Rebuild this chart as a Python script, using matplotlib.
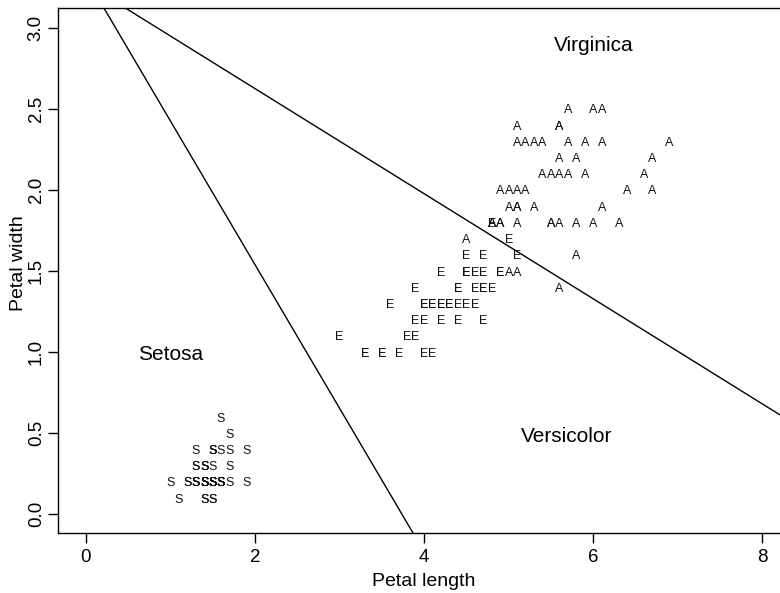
import matplotlib
matplotlib.use("Agg")
import matplotlib.pyplot as plt
import numpy as np

plt.rcParams['font.family'] = ['Liberation Sans', 'DejaVu Sans']

setosa_len = [1.4,1.4,1.3,1.5,1.4,1.7,1.4,1.5,1.4,1.5,1.5,1.6,1.4,1.1,1.2,1.5,1.3,1.4,1.7,1.5,
              1.7,1.5,1.0,1.7,1.9,1.6,1.6,1.5,1.4,1.6,1.6,1.5,1.5,1.4,1.5,1.2,1.3,1.4,1.3,1.5,
              1.3,1.3,1.3,1.6,1.9,1.4,1.6,1.4,1.5,1.4]
setosa_wid = [0.2,0.2,0.2,0.2,0.2,0.4,0.3,0.2,0.2,0.1,0.2,0.2,0.1,0.1,0.2,0.4,0.4,0.3,0.3,0.3,
              0.2,0.4,0.2,0.5,0.2,0.2,0.4,0.2,0.2,0.2,0.2,0.4,0.1,0.2,0.2,0.2,0.2,0.1,0.2,0.2,
              0.3,0.3,0.2,0.6,0.4,0.3,0.2,0.2,0.2,0.2]
versi_len = [4.7,4.5,4.9,4.0,4.6,4.5,4.7,3.3,4.6,3.9,3.5,4.2,4.0,4.7,3.6,4.4,4.5,4.1,4.5,3.9,
             4.8,4.0,4.9,4.7,4.3,4.4,4.8,5.0,4.5,3.5,3.8,3.7,3.9,5.1,4.5,4.5,4.7,4.4,4.1,4.0,
             4.4,4.6,4.0,3.3,4.2,4.2,4.2,4.3,3.0,4.1]
versi_wid = [1.4,1.5,1.5,1.3,1.5,1.3,1.6,1.0,1.3,1.4,1.0,1.5,1.0,1.4,1.3,1.4,1.5,1.0,1.5,1.1,
             1.8,1.3,1.5,1.2,1.3,1.4,1.4,1.7,1.5,1.0,1.1,1.0,1.2,1.6,1.5,1.6,1.5,1.3,1.3,1.3,
             1.2,1.4,1.2,1.0,1.3,1.2,1.3,1.3,1.1,1.3]
virg_len = [6.0,5.1,5.9,5.6,5.8,6.6,4.5,6.3,5.8,6.1,5.1,5.3,5.5,5.0,5.1,5.3,5.5,6.7,6.9,5.0,
            5.7,4.9,6.7,4.9,5.7,6.0,4.8,4.9,5.6,5.8,6.1,6.4,5.6,5.1,5.6,6.1,5.6,5.5,4.8,5.4,
            5.6,5.1,5.1,5.9,5.7,5.2,5.0,5.2,5.4,5.1]
virg_wid = [2.5,1.9,2.1,1.8,2.2,2.1,1.7,1.8,1.8,2.5,2.0,1.9,2.1,2.0,2.4,2.3,1.8,2.2,2.3,1.5,
            2.3,2.0,2.0,1.8,2.1,1.8,1.8,1.8,2.1,1.6,1.9,2.0,2.2,1.5,1.4,2.3,2.4,1.8,1.8,2.1,
            2.4,2.3,1.9,2.3,2.5,2.3,1.9,2.0,2.3,1.8]

species_letters = ['S', 'E', 'A']
region_names = ['Setosa', 'Versicolor', 'Virginica']
region_label_x = [1.0, 5.69, 6.0]
region_label_y = [1.0, 0.49, 2.90]

# decision boundaries: y = intercept + slope * x
boundary_intercepts = [3.313, 3.274]
boundary_slopes = [-0.886, -0.3242]

x_ticks = [0, 2, 4, 6, 8]
y_ticks = [0.0, 0.5, 1.0, 1.5, 2.0, 2.5, 3.0]

CAP = 0.716  # cap height / em for Liberation Sans
LETTER_SIZE = 9
REGION_SIZE = 15

fig = plt.figure(figsize=(7.8, 5.93), dpi=100)
ax = fig.add_axes([58/780, 60/593, 722/780, 525/593])
ax.set_xlim(-0.327, 8.207)
ax.set_ylim(-0.115, 3.122)

groups = [(setosa_len, setosa_wid), (versi_len, versi_wid), (virg_len, virg_wid)]
for (xs, ys), letter in zip(groups, species_letters):
    for x, y in zip(xs, ys):
        ax.annotate(letter, (x, y), xytext=(0, -LETTER_SIZE * CAP / 2),
                    textcoords='offset points', ha='center', va='baseline',
                    fontsize=LETTER_SIZE, color='#111111')

xx = np.array([-1.0, 10.0])
for b, m in zip(boundary_intercepts, boundary_slopes):
    ax.plot(xx, b + m * xx, color='black', lw=1.0)

for name, lx, ly in zip(region_names, region_label_x, region_label_y):
    ax.annotate(name, (lx, ly), xytext=(0, -REGION_SIZE * CAP / 2),
                textcoords='offset points', ha='center', va='baseline',
                fontsize=REGION_SIZE, color='black')

ax.set_xticks(x_ticks)
ax.set_xticklabels([str(t) for t in x_ticks])
ax.set_yticks(y_ticks)
ax.set_yticklabels([f"{t:.1f}" for t in y_ticks], rotation=90, va='center')
ax.tick_params(axis='both', length=7.5, width=1, labelsize=13.5, direction='out')
ax.tick_params(axis='x', pad=4)
ax.tick_params(axis='y', pad=2)
ax.spines['right'].set_visible(False)
for s in ['left', 'bottom', 'top']:
    ax.spines[s].set_linewidth(1.0)

ax.set_xlabel('Petal length', fontsize=14)
ax.set_ylabel('Petal width', fontsize=14)
ax.xaxis.set_label_coords((423.7 - 58) / 722, (533 - 581) / 525)
ax.xaxis.label.set_va('center')
ax.yaxis.set_label_coords((19 - 58) / 722, (533 - 263) / 525)
ax.yaxis.label.set_va('center')

fig.savefig('out.png', dpi=100)
